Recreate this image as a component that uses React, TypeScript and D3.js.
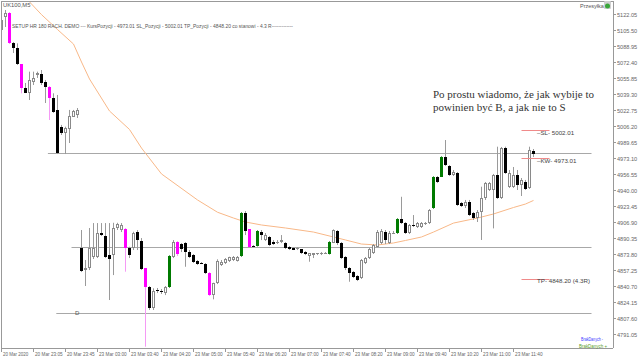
import React from "react";
import * as d3 from "d3";

// ---------- DATA ----------
const opens = [
  5105.5, 5118.6, 5123.4, 5092.4, 5086.6, 5070.0, 5045.2, 5040.0, 5051.4, 5058.9,
  5060.0, 5052.0, 5046.9, 5034.9, 5022.8, 5005.5, 4999.0, 5002.8, 5015.8, 5017.6,
  4880.3, 4857.2, 4859.3, 4870.7, 4871.0, 4895.8, 4892.4, 4872.7, 4872.7, 4900.7,
  4898.6, 4899.6, 4880.0, 4880.0, 4896.5, 4887.5, 4859.0, 4839.3, 4817.6, 4836.5,
  4835.8, 4833.1, 4839.3, 4871.0, 4886.5, 4884.1, 4885.1, 4876.1, 4872.7, 4866.5,
  4864.8, 4863.1, 4854.4, 4831.3, 4843.5, 4862.4, 4864.8, 4866.8, 4867.6, 4867.0,
  4871.7, 4916.5, 4899.3, 4882.0, 4882.0, 4896.8, 4888.2, 4891.0, 4886.5, 4884.8,
  4886.5, 4885.5, 4881.3, 4880.3, 4878.6, 4878.6, 4876.1, 4871.7, 4872.7, 4873.5,
  4873.8, 4874.5, 4873.8, 4885.5, 4897.9, 4884.8, 4871.0, 4859.0, 4855.5, 4851.0,
  4848.6, 4864.1, 4869.3, 4874.5, 4881.3, 4884.8, 4896.8, 4885.5, 4895.2, 4895.2,
  4909.7, 4905.5, 4895.2, 4903.8, 4902.0, 4902.0, 4904.8, 4905.5, 4921.0, 4953.7,
  4953.7, 4974.4, 4964.8, 4955.5, 4957.9, 4926.2, 4923.5, 4927.9, 4915.9, 4910.7,
  4917.5, 4931.4, 4940.0, 4940.0, 4955.5, 4931.4, 4983.1, 4943.4, 4943.4, 4955.5,
  4945.2, 4948.5, 4941.8, 4980.3,
];
const highs = [
  5121.0, 5126.2, 5124.1, 5093.1, 5091.7, 5070.3, 5050.7, 5062.4, 5062.4, 5062.4,
  5064.1, 5053.8, 5047.6, 5040.0, 5038.3, 5007.3, 5005.5, 5022.8, 5022.8, 5024.8,
  4898.6, 4867.6, 4900.7, 4905.8, 4905.8, 4905.8, 4905.8, 4905.8, 4906.1, 4906.1,
  4905.8, 4900.7, 4881.3, 4896.8, 4898.6, 4890.3, 4859.3, 4840.7, 4838.3, 4838.6,
  4837.6, 4840.7, 4872.7, 4888.2, 4887.2, 4885.1, 4886.2, 4877.9, 4873.8, 4867.6,
  4865.5, 4864.5, 4855.1, 4844.1, 4868.3, 4867.6, 4869.6, 4871.0, 4871.7, 4871.7,
  4917.2, 4918.2, 4899.6, 4883.1, 4898.6, 4898.6, 4895.5, 4892.4, 4888.2, 4888.2,
  4893.4, 4886.2, 4882.0, 4881.0, 4881.0, 4878.9, 4876.9, 4874.8, 4874.8, 4874.8,
  4875.8, 4875.8, 4887.2, 4899.3, 4898.6, 4886.2, 4871.7, 4860.3, 4856.2, 4852.0,
  4868.6, 4870.7, 4880.0, 4884.1, 4898.6, 4899.6, 4898.6, 4897.6, 4897.6, 4911.0,
  4933.0, 4906.9, 4904.8, 4914.1, 4906.9, 4906.9, 4906.9, 4920.3, 4954.4, 4954.4,
  4975.1, 4991.7, 4965.8, 4960.7, 4958.6, 4927.6, 4929.7, 4929.7, 4917.2, 4919.3,
  4943.4, 4948.3, 4948.3, 4956.6, 4984.8, 4984.5, 4984.8, 4960.7, 4963.8, 4960.7,
  4952.4, 4950.4, 4984.8, 4982.4,
];
const lows = [
  5076.5, 5108.6, 5091.0, 5081.7, 5069.3, 5040.0, 5040.3, 5033.1, 5048.6, 5055.9,
  5048.6, 5030.0, 5012.4, 5019.7, 4977.2, 4996.9, 4977.2, 4988.6, 5015.5, 5014.5,
  4855.1, 4840.7, 4857.2, 4868.6, 4869.6, 4892.4, 4869.6, 4826.2, 4852.0, 4898.6,
  4896.5, 4855.5, 4869.6, 4877.9, 4877.9, 4857.2, 4777.9, 4815.9, 4815.9, 4833.4,
  4832.4, 4831.3, 4838.6, 4869.6, 4871.7, 4875.8, 4860.6, 4869.6, 4864.5, 4862.4,
  4863.4, 4853.1, 4830.3, 4826.9, 4842.7, 4861.4, 4863.4, 4865.5, 4866.5, 4866.0,
  4870.7, 4893.4, 4881.0, 4881.0, 4881.5, 4888.2, 4887.2, 4882.0, 4883.1, 4884.1,
  4885.1, 4878.9, 4877.9, 4877.9, 4877.9, 4873.8, 4872.7, 4865.8, 4869.6, 4872.7,
  4872.7, 4873.8, 4873.2, 4885.1, 4883.1, 4868.6, 4857.2, 4845.1, 4848.9, 4845.8,
  4847.9, 4863.4, 4868.6, 4873.8, 4881.0, 4884.1, 4884.1, 4884.1, 4894.5, 4894.5,
  4904.8, 4894.5, 4894.5, 4901.7, 4900.7, 4900.7, 4903.8, 4904.8, 4920.3, 4947.2,
  4953.4, 4964.8, 4954.5, 4954.5, 4923.5, 4922.4, 4921.4, 4913.1, 4909.0, 4906.9,
  4888.3, 4929.7, 4939.0, 4900.3, 4930.7, 4930.7, 4956.6, 4942.1, 4942.1, 4940.0,
  4933.8, 4940.0, 4941.1, 4974.1,
];
const closes = [
  5115.9, 5123.4, 5092.4, 5086.6, 5070.0, 5045.2, 5040.7, 5053.8, 5056.2, 5060.7,
  5051.0, 5046.2, 5034.9, 5021.0, 4978.0, 4998.7, 5004.1, 5016.5, 5021.7, 5022.8,
  4856.5, 4859.3, 4880.0, 4880.0, 4895.8, 4893.7, 4871.0, 4868.6, 4900.7, 4904.8,
  4903.8, 4880.0, 4872.7, 4895.5, 4888.2, 4858.2, 4839.3, 4817.6, 4835.5, 4835.5,
  4834.5, 4839.3, 4871.7, 4886.5, 4873.8, 4878.9, 4876.1, 4871.0, 4865.2, 4863.4,
  4864.1, 4853.8, 4831.3, 4843.5, 4866.5, 4865.8, 4868.3, 4870.3, 4871.0, 4871.2,
  4916.5, 4897.6, 4881.3, 4881.3, 4897.6, 4893.4, 4893.4, 4883.1, 4883.8, 4886.5,
  4888.2, 4879.7, 4878.6, 4878.2, 4880.3, 4874.5, 4873.8, 4874.5, 4874.5, 4874.5,
  4875.1, 4875.1, 4886.5, 4898.6, 4884.8, 4869.3, 4859.0, 4854.4, 4850.3, 4846.9,
  4867.6, 4869.3, 4878.6, 4883.1, 4896.8, 4897.9, 4888.2, 4895.8, 4895.8, 4909.7,
  4905.5, 4895.2, 4903.8, 4902.7, 4905.5, 4906.1, 4906.1, 4919.3, 4953.7, 4948.5,
  4974.4, 4965.8, 4955.5, 4958.9, 4924.5, 4923.5, 4927.9, 4914.1, 4910.7, 4917.5,
  4931.4, 4946.9, 4946.9, 4955.5, 4931.4, 4983.1, 4957.3, 4957.3, 4955.5, 4945.2,
  4950.4, 4940.7, 4981.4, 4977.2,
];
const magentaBars = [2, 5, 12, 31, 36, 44, 52, 62];
const greenBars = [42, 60, 64, 82, 99, 108, 110];

const maBars = [6, 10, 14, 18, 20, 22, 27, 32, 35, 40, 49, 54, 58, 61, 65, 71, 78, 83, 86, 90, 94, 98, 101, 105, 108, 113, 119, 123, 128, 131, 133];
const maValues = [5139.0, 5121.4, 5106.0, 5091.0, 5072.4, 5054.8, 5021.7, 5002.6, 4983.4, 4956.6, 4929.7, 4917.0, 4911.0, 4906.9, 4903.8, 4900.7, 4896.5, 4891.4, 4888.3, 4884.1, 4883.1, 4885.2, 4887.8, 4891.4, 4896.5, 4905.8, 4911.0, 4915.2, 4921.9, 4925.5, 4929.2];

const priceTicks = ["4791.05", "4807.60", "4824.15", "4840.70", "4857.25", "4873.80", "4890.35", "4906.90", "4923.45", "4940.00", "4956.55", "4973.10", "4989.65", "5006.20", "5022.75", "5039.30", "5055.85", "5072.40", "5088.95", "5105.50", "5122.05"];
const timeTickBars = [0, 8, 16, 24, 32, 40, 48, 56, 64, 72, 80, 88, 96, 104, 112, 120, 128];
const timeTickLabels = ["20 Mar 2020", "20 Mar 23:05", "20 Mar 23:45", "23 Mar 03:00", "23 Mar 03:40", "23 Mar 04:20", "23 Mar 05:00", "23 Mar 05:40", "23 Mar 06:20", "23 Mar 07:00", "23 Mar 07:40", "23 Mar 08:20", "23 Mar 09:00", "23 Mar 09:40", "23 Mar 10:20", "23 Mar 11:00", "23 Mar 11:40"];

const levelPrices = [4978.3, 4881.0, 4812.8];
const levelStartBars = [11.6, 17.5, 13.7];
const levelEndBar = 147.5;

const tradeNames = ["SL", "KW", "TP"];
const tradePrices = [5002.01, 4973.01, 4848.2];
const tradeLabels = ["\u2013SL- 5002.01", "\u2013KW- 4973.01", "TP- 4848.20 (4.3R)"];
const tradeStartBar = 130;
const tradeEndBar = 137;

const symbolLabel = "UK100,M5";
const setupText = "SETUP HR 180 RACH. DEMO --- KursPozycji - 4973.01 SL_Pozycji - 5002.01 TP_Pozycji - 4848.20 co stanowi - 4.3 R-------------";
const noteLines = ["Po prostu wiadomo, że jak wybije to", "powinien być B, a jak nie to S"];

// ---------- CHART ----------
const W = 640, H = 360;
const L = 1.5, T = 1, R = 613, B = 348;
const FONT = "'Liberation Sans', Arial, sans-serif";

export default function App() {
  const x = d3.scaleLinear().domain([0, 133]).range([1.5, 533.5]);
  const y = d3.scaleLinear().domain([4791.05, 5122.05]).range([334, 14]);
  const mSet = new Set(magentaBars);
  const gSet = new Set(greenBars);

  const ma = d3.line<number>().x((_, i) => x(maBars[i])).y((v) => y(v));

  const candles = opens.map((o, i) => {
    const c = closes[i];
    const xc = x(i);
    const top = Math.round(y(Math.max(o, c)));
    const bot = Math.round(y(Math.min(o, c)));
    const h = Math.max(1, bot - top);
    const bull = c > o;
    let wick = "#9a9a9a";
    let body: React.ReactNode;
    if (mSet.has(i)) {
      wick = "#f59af5";
      body = <rect x={xc - 1.5} y={top} width={3} height={h} fill="#ff00ff" />;
    } else if (gSet.has(i)) {
      wick = "#6aa06a";
      body = <rect x={xc - 1.5} y={top} width={3} height={h} fill="#007a00" />;
    } else if (bull) {
      body = h > 2
        ? <rect x={xc - 1} y={top + 0.5} width={2} height={h - 1} fill="#fff" stroke="#8a8a8a" strokeWidth={1} />
        : <rect x={xc - 1.5} y={top} width={3} height={h} fill="#8a8a8a" />;
    } else {
      body = <rect x={xc - 1.5} y={top} width={3} height={h} fill="#000" />;
    }
    return (
      <g key={i}>
        <line x1={xc} x2={xc} y1={y(highs[i])} y2={y(lows[i])} stroke={wick} strokeWidth={1} />
        {body}
      </g>
    );
  });

  return (
    <svg width={W} height={H} style={{ position: "absolute", left: 0, top: 0, background: "#fff" }} fontFamily={FONT}>
      <defs>
        <clipPath id="plot">
          <rect x={L} y={T} width={R - L} height={B - T} />
        </clipPath>
      </defs>
      <rect x={0} y={0} width={W} height={H} fill="#fff" />
      <g clipPath="url(#plot)">
        {levelPrices.map((p, i) => (
          <line key={i} x1={x(levelStartBars[i])} x2={x(levelEndBar)} y1={Math.round(y(p)) + 0.5} y2={Math.round(y(p)) + 0.5} stroke="#a8a8a8" strokeWidth={1} />
        ))}
        <path d={ma(maValues) || ""} fill="none" stroke="#f8b888" strokeWidth={1} />
        {candles}
        {tradePrices.map((p, i) => (
          <line key={tradeNames[i]} x1={x(tradeStartBar)} x2={x(tradeEndBar)} y1={Math.round(y(p)) + 0.5} y2={Math.round(y(p)) + 0.5} stroke="#f08a8a" strokeWidth={1} />
        ))}
      </g>
      {tradePrices.map((p, i) => (
        <text key={"t" + i} x={537} y={y(p) + 4.5} fontSize={6.2} fill="#444">{tradeLabels[i]}</text>
      ))}
      <text x={75} y={y(levelPrices[2]) + 2.5} fontSize={6} fill="#555">D</text>

      {/* frame */}
      <line x1={L} x2={L} y1={T} y2={B} stroke="#999" />
      <line x1={L} x2={R} y1={T + 0.5} y2={T + 0.5} stroke="#999" />
      <line x1={L} x2={R} y1={B + 0.5} y2={B + 0.5} stroke="#999" />
      <line x1={R + 0.5} x2={R + 0.5} y1={T} y2={B} stroke="#999" />

      {/* price axis */}
      {priceTicks.map((t) => {
        const yy = Math.round(y(+t)) + 0.5;
        return (
          <g key={t}>
            <line x1={R} x2={R + 3} y1={yy} y2={yy} stroke="#999" />
            <text x={R + 4} y={yy + 2.2} fontSize={5.6} fill="#666">{t}</text>
          </g>
        );
      })}

      {/* time axis */}
      {timeTickBars.map((b, i) => {
        const xx = Math.round(x(b)) - 0.5;
        const lab = timeTickLabels[i];
        return (
          <g key={b}>
            <line x1={xx} x2={xx} y1={B} y2={B + 4} stroke="#999" />
            <text x={xx + 1.5} y={356} fontSize={5.6} fill="#666" textLength={lab.length * 2.3} lengthAdjust="spacingAndGlyphs">{lab}</text>
          </g>
        );
      })}

      {/* texts */}
      <text x={3} y={7} fontSize={5.8} fill="#555">{symbolLabel}</text>
      <text x={12} y={28} fontSize={5.8} fill="#555" textLength={281} lengthAdjust="spacingAndGlyphs">{setupText}</text>
      {noteLines.map((s, i) => (
        <text key={i} x={433} y={98 + i * 13} fontSize={11} fill="#333" fontFamily="'Liberation Serif', 'Times New Roman', serif">{s}</text>
      ))}
      <text x={580} y={8} fontSize={5.5} fill="#555">Przesyłka</text>
      <g>
        <rect x={604} y={1} width={7} height={8} rx={1} fill="#cfcfcf" />
        <circle cx={607.5} cy={6} r={2.5} fill="#3aa63a" />
      </g>
      <text x={581} y={341} fontSize={5.6} fill="#3a3aff" textLength={22} lengthAdjust="spacingAndGlyphs">BrakDanych -</text>
      <text x={579} y={347.5} fontSize={5.6} fill="#5aa02a" textLength={28} lengthAdjust="spacingAndGlyphs">BrakDanych +</text>
    </svg>
  );
}
